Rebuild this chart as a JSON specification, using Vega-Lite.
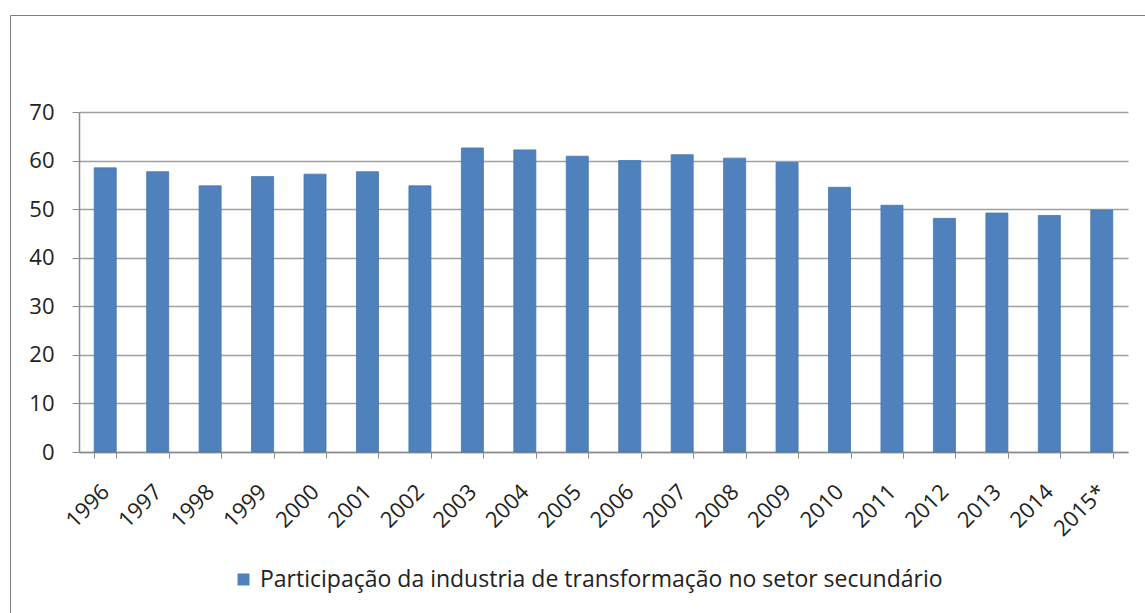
{
  "$schema": "https://vega.github.io/schema/vega-lite/v6.json",
  "width": 1049,
  "height": 340,
  "autosize": {"type": "none"},
  "padding": {"left": 79, "top": 112, "right": 17, "bottom": 161},
  "background": "white",
  "data": {
    "values": [
      {"ano": "1996", "valor": 58.5, "serie": "Participação da industria de transformação no setor secundário"},
      {"ano": "1997", "valor": 57.7, "serie": "Participação da industria de transformação no setor secundário"},
      {"ano": "1998", "valor": 54.8, "serie": "Participação da industria de transformação no setor secundário"},
      {"ano": "1999", "valor": 56.7, "serie": "Participação da industria de transformação no setor secundário"},
      {"ano": "2000", "valor": 57.2, "serie": "Participação da industria de transformação no setor secundário"},
      {"ano": "2001", "valor": 57.7, "serie": "Participação da industria de transformação no setor secundário"},
      {"ano": "2002", "valor": 54.8, "serie": "Participação da industria de transformação no setor secundário"},
      {"ano": "2003", "valor": 62.6, "serie": "Participação da industria de transformação no setor secundário"},
      {"ano": "2004", "valor": 62.2, "serie": "Participação da industria de transformação no setor secundário"},
      {"ano": "2005", "valor": 60.9, "serie": "Participação da industria de transformação no setor secundário"},
      {"ano": "2006", "valor": 60.0, "serie": "Participação da industria de transformação no setor secundário"},
      {"ano": "2007", "valor": 61.2, "serie": "Participação da industria de transformação no setor secundário"},
      {"ano": "2008", "valor": 60.5, "serie": "Participação da industria de transformação no setor secundário"},
      {"ano": "2009", "valor": 59.6, "serie": "Participação da industria de transformação no setor secundário"},
      {"ano": "2010", "valor": 54.5, "serie": "Participação da industria de transformação no setor secundário"},
      {"ano": "2011", "valor": 50.8, "serie": "Participação da industria de transformação no setor secundário"},
      {"ano": "2012", "valor": 48.1, "serie": "Participação da industria de transformação no setor secundário"},
      {"ano": "2013", "valor": 49.2, "serie": "Participação da industria de transformação no setor secundário"},
      {"ano": "2014", "valor": 48.7, "serie": "Participação da industria de transformação no setor secundário"},
      {"ano": "2015*", "valor": 49.8, "serie": "Participação da industria de transformação no setor secundário"}
    ]
  },
  "mark": {"type": "bar", "stroke": "#4577B3", "strokeWidth": 0.8},
  "encoding": {
    "x": {
      "field": "ano",
      "type": "ordinal",
      "sort": null,
      "scale": {"paddingInner": 0.58, "paddingOuter": 0.29},
      "axis": {
        "title": null,
        "labelAngle": -45,
        "labelAlign": "right",
        "labelBaseline": "middle",
        "labelFontSize": 22,
        "labelColor": "#222222",
        "labelPadding": 30,
        "tickBand": "extent",
        "tickSize": 6,
        "tickColor": "#8c8c8c",
        "domainColor": "#8c8c8c",
        "domainWidth": 1.5,
        "grid": false
      }
    },
    "y": {
      "field": "valor",
      "type": "quantitative",
      "scale": {"domain": [0, 70], "nice": false},
      "axis": {
        "title": null,
        "values": [0, 10, 20, 30, 40, 50, 60, 70],
        "labelFontSize": 22,
        "labelColor": "#222222",
        "labelPadding": 18,
        "tickSize": 7,
        "tickColor": "#8c8c8c",
        "domainColor": "#8c8c8c",
        "domainWidth": 1.5,
        "gridColor": "#a0a0a0",
        "gridWidth": 1.5
      }
    },
    "color": {
      "field": "serie",
      "type": "nominal",
      "scale": {"range": ["#4F81BD"]},
      "legend": {
        "orient": "none",
        "legendX": -69,
        "legendY": -97,
        "strokeColor": "#7f7f7f",
        "padding": 222,
        "title": " ",
        "titleFontSize": 10,
        "titlePadding": 321,
        "symbolType": "square",
        "symbolSize": 144,
        "symbolStrokeWidth": 0,
        "labelFontSize": 23,
        "labelColor": "#222222",
        "labelLimit": 2000,
        "labelOffset": 5
      }
    }
  },
  "config": {"view": {"stroke": null}, "font": "Open Sans"}
}
